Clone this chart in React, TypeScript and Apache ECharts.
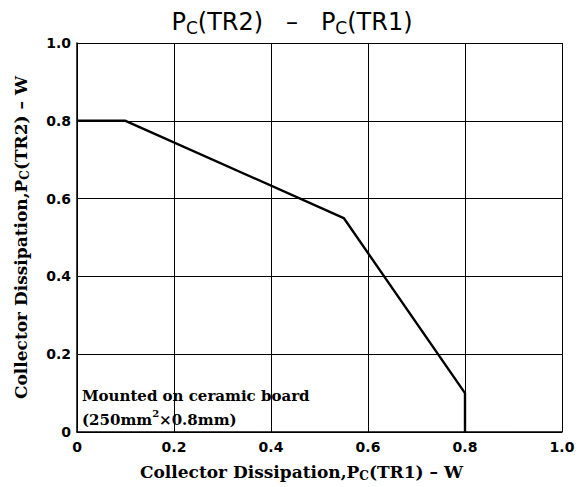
import React, { useEffect, useRef } from "react";
import * as echarts from "echarts";

const xTicks = [0, 0.2, 0.4, 0.6, 0.8, 1.0];
const yTicks = [0, 0.2, 0.4, 0.6, 0.8, 1.0];
const pcTR1 = [0, 0.1, 0.55, 0.8, 0.8];
const pcTR2 = [0.8, 0.8, 0.55, 0.1, 0];

const serif = "DejaVu Serif";
const sans = "DejaVu Sans";

export default function App() {
  const ref = useRef<HTMLDivElement>(null);
  useEffect(() => {
    if (!ref.current) return;
    const chart = echarts.init(ref.current, undefined, { renderer: "svg" });
    const fmt = (v: number) => (v === 0 ? "0" : v.toFixed(1));
    const nameStyle = {
      fontFamily: serif,
      fontWeight: "bold",
      fontSize: 17,
      color: "#000",
      rich: {
        s: { fontFamily: serif, fontWeight: "bold", fontSize: 12, color: "#000", padding: [9, 0, 0, 0] },
      },
    };
    chart.setOption({
      animation: false,
      backgroundColor: "#fff",
      title: {
        text: "P{s|C}(TR2)   –   P{s|C}(TR1)",
        left: "center",
        top: 2,
        textStyle: {
          fontFamily: sans,
          fontSize: 24,
          fontWeight: "normal",
          color: "#000",
          rich: {
            s: { fontFamily: sans, fontSize: 17, verticalAlign: "bottom", padding: [12, 0, 0, 0], color: "#000" },
          },
        },
      },
      grid: { left: 77, right: 22, top: 43, bottom: 54, containLabel: false },
      xAxis: {
        type: "value",
        min: 0,
        max: 1.0,
        interval: 0.2,
        name: "Collector Dissipation,P{s|C}(TR1) – W",
        nameLocation: "middle",
        nameGap: 29,
        nameTextStyle: { ...nameStyle, padding: [0, 36, 0, 0] },
        axisLine: { lineStyle: { color: "#000", width: 1.5 } },
        axisTick: { show: false },
        axisLabel: {
          fontFamily: sans,
          fontWeight: "bold",
          fontSize: 14,
          color: "#000",
          margin: 8,
          formatter: fmt,
          customValues: xTicks,
        },
        splitLine: { show: true, lineStyle: { color: "#000", width: 1 } },
      },
      yAxis: {
        type: "value",
        min: 0,
        max: 1.0,
        interval: 0.2,
        name: "Collector Dissipation,P{s|C}(TR2) – W",
        nameLocation: "middle",
        nameGap: 46,
        nameRotate: 90,
        nameTextStyle: nameStyle,
        axisLine: { show: true, lineStyle: { color: "#000", width: 1.5 } },
        axisTick: { show: false },
        axisLabel: {
          fontFamily: sans,
          fontWeight: "bold",
          fontSize: 14,
          color: "#000",
          margin: 6,
          formatter: fmt,
          customValues: yTicks,
        },
        splitLine: { show: true, lineStyle: { color: "#000", width: 1 } },
      },
      series: [
        {
          type: "line",
          data: pcTR1.map((x, i) => [x, pcTR2[i]]),
          showSymbol: false,
          symbol: "none",
          lineStyle: { color: "#000", width: 2.4 },
        },
      ],
      graphic: [
        {
          type: "text",
          left: 82,
          top: 384,
          style: {
            text: "Mounted on ceramic board\n(250mm{p|2}×0.8mm)",
            font: `bold 15px "${serif}"`,
            fill: "#000",
            lineHeight: 24,
            rich: {
              p: { font: `bold 10px "${serif}"`, fill: "#000", verticalAlign: "top", padding: [0, 0, 8, 0] },
            },
          },
        },
      ],
    });
    return () => chart.dispose();
  }, []);
  return <div ref={ref} style={{ width: 584, height: 487, position: "absolute", left: 0, top: 0 }} />;
}
